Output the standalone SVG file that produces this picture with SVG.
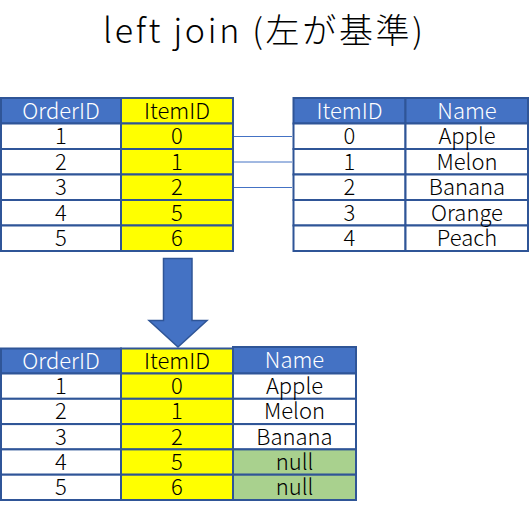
<svg xmlns="http://www.w3.org/2000/svg" width="530" height="516" viewBox="0 0 530 516">
<style>
text{font-family:"Noto Sans CJK JP","Noto Sans",sans-serif;text-anchor:middle;font-weight:300}
.t{font-size:22px;fill:#000}
.h{font-size:22px;fill:#fff}
.hd{fill:#4472C4;stroke:#2F5597;stroke-width:2}
.w{fill:#fff;stroke:#2F5597;stroke-width:2}
.y{fill:#FFFF00;stroke:#2F5597;stroke-width:2}
.g{fill:#A9D18E;stroke:#2F5597;stroke-width:2}
.ln{stroke:#4472C4;stroke-width:1;fill:none}
</style>
<rect width="530" height="516" fill="#fff"/>
<text id="title" x="263" y="43" textLength="320" lengthAdjust="spacing" style="font-size:34px;fill:#000">left join (左が基準)</text>

<g id="orders">
<rect class="hd" x="1" y="98" width="120" height="25.5"/>
<rect class="y" x="121" y="98" width="112" height="25.5"/>
<rect class="w" x="1" y="123.5" width="120" height="25.5"/>
<rect class="y" x="121" y="123.5" width="112" height="25.5"/>
<rect class="w" x="1" y="149" width="120" height="25.5"/>
<rect class="y" x="121" y="149" width="112" height="25.5"/>
<rect class="w" x="1" y="174.5" width="120" height="25.5"/>
<rect class="y" x="121" y="174.5" width="112" height="25.5"/>
<rect class="w" x="1" y="200" width="120" height="25.5"/>
<rect class="y" x="121" y="200" width="112" height="25.5"/>
<rect class="w" x="1" y="225.5" width="120" height="25.5"/>
<rect class="y" x="121" y="225.5" width="112" height="25.5"/>
<text class="h" x="61" y="118.5">OrderID</text>
<text class="t" x="177" y="118.5">ItemID</text>
<text class="t" x="61" y="144">1</text><text class="t" x="177" y="144">0</text>
<text class="t" x="61" y="169.5">2</text><text class="t" x="177" y="169.5">1</text>
<text class="t" x="61" y="195">3</text><text class="t" x="177" y="195">2</text>
<text class="t" x="61" y="220.5">4</text><text class="t" x="177" y="220.5">5</text>
<text class="t" x="61" y="246">5</text><text class="t" x="177" y="246">6</text>
</g>

<g id="items">
<rect class="hd" x="293.5" y="98" width="112" height="25.5"/>
<rect class="hd" x="405.5" y="98" width="122.5" height="25.5"/>
<rect class="w" x="293.5" y="123.5" width="112" height="25.5"/>
<rect class="w" x="405.5" y="123.5" width="122.5" height="25.5"/>
<rect class="w" x="293.5" y="149" width="112" height="25.5"/>
<rect class="w" x="405.5" y="149" width="122.5" height="25.5"/>
<rect class="w" x="293.5" y="174.5" width="112" height="25.5"/>
<rect class="w" x="405.5" y="174.5" width="122.5" height="25.5"/>
<rect class="w" x="293.5" y="200" width="112" height="25.5"/>
<rect class="w" x="405.5" y="200" width="122.5" height="25.5"/>
<rect class="w" x="293.5" y="225.5" width="112" height="25.5"/>
<rect class="w" x="405.5" y="225.5" width="122.5" height="25.5"/>
<text class="h" x="349.5" y="118.5">ItemID</text>
<text class="h" x="467" y="118.5">Name</text>
<text class="t" x="349.5" y="144">0</text><text class="t" x="467" y="144">Apple</text>
<text class="t" x="349.5" y="169.5">1</text><text class="t" x="467" y="169.5">Melon</text>
<text class="t" x="349.5" y="195">2</text><text class="t" x="467" y="195">Banana</text>
<text class="t" x="349.5" y="220.5">3</text><text class="t" x="467" y="220.5">Orange</text>
<text class="t" x="349.5" y="246">4</text><text class="t" x="467" y="246">Peach</text>
</g>

<g id="result">
<rect class="hd" x="1" y="348.5" width="120" height="25"/>
<rect class="y" x="121" y="348.5" width="112" height="25"/>
<rect class="hd" x="233" y="347" width="123" height="26.5"/>
<rect class="w" x="1" y="373.5" width="120" height="25.3"/>
<rect class="y" x="121" y="373.5" width="112" height="25.3"/>
<rect class="w" x="233" y="373.5" width="123" height="25.3"/>
<rect class="w" x="1" y="398.8" width="120" height="25.3"/>
<rect class="y" x="121" y="398.8" width="112" height="25.3"/>
<rect class="w" x="233" y="398.8" width="123" height="25.3"/>
<rect class="w" x="1" y="424.1" width="120" height="25.3"/>
<rect class="y" x="121" y="424.1" width="112" height="25.3"/>
<rect class="w" x="233" y="424.1" width="123" height="25.3"/>
<rect class="w" x="1" y="449.4" width="120" height="25.3"/>
<rect class="y" x="121" y="449.4" width="112" height="25.3"/>
<rect class="g" x="233" y="449.4" width="123" height="25.3"/>
<rect class="w" x="1" y="474.7" width="120" height="25.3"/>
<rect class="y" x="121" y="474.7" width="112" height="25.3"/>
<rect class="g" x="233" y="474.7" width="123" height="25.3"/>
<text class="h" x="61" y="368.5">OrderID</text>
<text class="t" x="177" y="368.5">ItemID</text>
<text class="h" x="294.5" y="368">Name</text>
<text class="t" x="61" y="394">1</text><text class="t" x="177" y="394">0</text><text class="t" x="294.5" y="394">Apple</text>
<text class="t" x="61" y="419.3">2</text><text class="t" x="177" y="419.3">1</text><text class="t" x="294.5" y="419.3">Melon</text>
<text class="t" x="61" y="444.6">3</text><text class="t" x="177" y="444.6">2</text><text class="t" x="294.5" y="444.6">Banana</text>
<text class="t" x="61" y="469.9">4</text><text class="t" x="177" y="469.9">5</text><text class="t" x="294.5" y="469.9">null</text>
<text class="t" x="61" y="495.2">5</text><text class="t" x="177" y="495.2">6</text><text class="t" x="294.5" y="495.2">null</text>
</g>

<g id="connectors">
<line class="ln" x1="234" y1="136.5" x2="292" y2="136.5"/>
<line class="ln" x1="234" y1="162" x2="292" y2="162"/>
<line class="ln" x1="234" y1="187.5" x2="292" y2="187.5"/>
<polygon points="163.5,258.5 192,258.5 192,320.5 207,320.5 178,347 149,320.5 163.5,320.5" fill="#4472C4" stroke="#2F5597" stroke-width="1.5"/>
</g>
</svg>
